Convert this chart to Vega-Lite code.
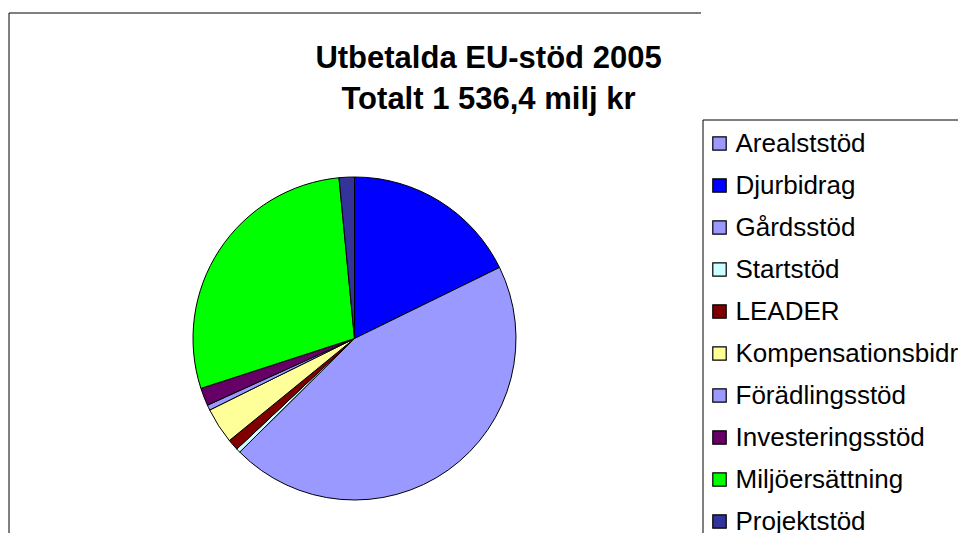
{
  "$schema": "https://vega.github.io/schema/vega-lite/v6.json",
  "autosize": {"type": "none"},
  "width": 692,
  "height": 652,
  "padding": {"left": 8.5, "top": 12.5, "right": 257.5, "bottom": 0},
  "background": "white",
  "view": {"stroke": "#000000", "strokeWidth": 1, "strokeDash": [692, 1344, 652, 0], "fill": null},
  "title": {
    "text": ["Utbetalda EU-stöd 2005", "Totalt 1 536,4 milj kr"],
    "font": "Liberation Sans",
    "fontSize": 31,
    "fontWeight": "bold",
    "color": "#000000",
    "lineHeight": 41,
    "anchor": "middle",
    "frame": "group",
    "baseline": "alphabetic",
    "offset": -54.5,
    "dx": 134,
    "dy": 73
  },
  "data": {
    "values": [
      {"k": "Arealststöd", "v": 0, "i": 0},
      {"k": "Djurbidrag", "v": 272.7, "i": 1},
      {"k": "Gårdsstöd", "v": 688.8, "i": 2},
      {"k": "Startstöd", "v": 6.4, "i": 3},
      {"k": "LEADER", "v": 17.1, "i": 4},
      {"k": "Kompensationsbidrag", "v": 55.1, "i": 5},
      {"k": "Förädlingsstöd", "v": 8.1, "i": 6},
      {"k": "Investeringsstöd", "v": 27.3, "i": 7},
      {"k": "Miljöersättning", "v": 437.4, "i": 8},
      {"k": "Projektstöd", "v": 23.5, "i": 9}
    ]
  },
  "mark": {"type": "arc", "outerRadius": 161.5, "stroke": "#000000", "strokeWidth": 1},
  "encoding": {
    "theta": {"field": "v", "type": "quantitative", "stack": true},
    "order": {"field": "i", "type": "quantitative"},
    "color": {
      "field": "k",
      "type": "nominal",
      "scale": {
        "domain": ["Arealststöd", "Djurbidrag", "Gårdsstöd", "Startstöd", "LEADER", "Kompensationsbidrag", "Förädlingsstöd", "Investeringsstöd", "Miljöersättning", "Projektstöd"],
        "range": ["#9999FF", "#0000FF", "#9999FF", "#CCFFFF", "#800000", "#FFFF99", "#9999FF", "#660066", "#00FF00", "#333399"]
      },
      "legend": {
        "title": " ",
        "titleFontSize": 1,
        "titlePadding": 6,
        "orient": "none",
        "legendX": 694,
        "legendY": 107,
        "padding": 4,
        "strokeColor": "#000000",
        "fillColor": "#FFFFFF",
        "labelFont": "Liberation Sans",
        "labelFontSize": 26,
        "labelColor": "#000000",
        "labelLimit": 400,
        "labelOffset": 3,
        "symbolType": "square",
        "symbolSize": 180,
        "symbolStrokeColor": "#000000",
        "symbolStrokeWidth": 1.2,
        "symbolOpacity": 1,
        "rowPadding": 16
      }
    }
  }
}
